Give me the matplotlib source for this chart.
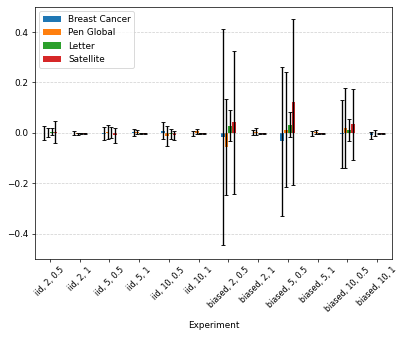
import numpy as np
import matplotlib
matplotlib.use('Agg')
import matplotlib.pyplot as plt

# Experiment labels (distribution, clients, alpha)
experiments = ['iid, 2, 0.5', 'iid, 2, 1', 'iid, 5, 0.5', 'iid, 5, 1', 'iid, 10, 0.5', 'iid, 10, 1',
               'biased, 2, 0.5', 'biased, 2, 1', 'biased, 5, 0.5', 'biased, 5, 1',
               'biased, 10, 0.5', 'biased, 10, 1']

datasets = ['Breast Cancer', 'Pen Global', 'Letter', 'Satellite']

# Mean values and error (std) per dataset
breast_mean = [-0.001, -0.002, -0.003, 0.002, 0.009, -0.002, -0.016, 0.0, -0.033, -0.002, -0.006, -0.010]
breast_err = [0.028, 0.008, 0.027, 0.013, 0.035, 0.010, 0.429, 0.010, 0.295, 0.010, 0.135, 0.014]
pen_mean = [0.000, -0.003, 0.002, 0.003, -0.012, 0.007, -0.055, 0.005, 0.013, 0.003, 0.019, 0.000]
pen_err = [0.018, 0.004, 0.028, 0.008, 0.039, 0.010, 0.190, 0.015, 0.227, 0.008, 0.159, 0.013]
letter_mean = [0.005, -0.003, 0.000, -0.003, -0.006, -0.003, 0.028, -0.002, 0.033, -0.002, 0.012, -0.002]
letter_err = [0.015, 0.002, 0.022, 0.002, 0.020, 0.002, 0.062, 0.003, 0.050, 0.003, 0.045, 0.003]
sat_mean = [0.003, -0.004, -0.010, -0.004, -0.010, -0.003, 0.042, -0.003, 0.123, -0.003, 0.034, -0.003]
sat_err = [0.045, 0.002, 0.030, 0.002, 0.019, 0.002, 0.283, 0.003, 0.330, 0.003, 0.140, 0.003]

means = [breast_mean, pen_mean, letter_mean, sat_mean]
errs = [breast_err, pen_err, letter_err, sat_err]
colors = ['#1f77b4', '#ff7f0e', '#2ca02c', '#d62728']

fig, ax = plt.subplots(figsize=(407 / 64, 339 / 64), dpi=64)
fig.subplots_adjust(left=0.086, right=0.963, top=0.980, bottom=0.236)

x = np.arange(len(experiments))
width = 0.125
for i, name in enumerate(datasets):
    offset = (i - 1.5) * width
    ax.bar(x + offset, means[i], width, yerr=errs[i], color=colors[i], label=name,
           capsize=2.5, error_kw={'ecolor': 'black', 'elinewidth': 1.5})

ax.set_xticks(x)
ax.set_xticklabels(experiments, rotation=45, fontsize=9)
ax.set_xlim(-0.5, len(experiments) - 0.5)
ax.set_ylim(-0.5, 0.5)
ax.set_xlabel('Experiment', labelpad=9)
ax.grid(axis='y', linestyle='--', alpha=0.6)
ax.legend(loc='upper left')

plt.savefig('out.png', dpi=64)
